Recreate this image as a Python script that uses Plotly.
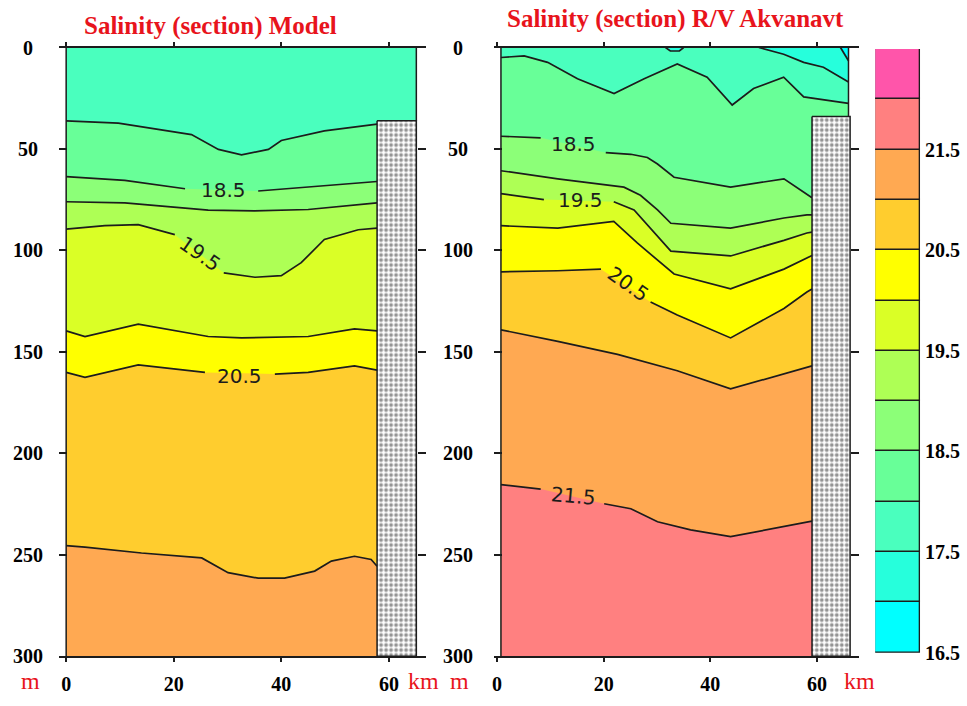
import plotly.graph_objects as go

# ---- salinity classes (0.5 psu) and their colours -------------------------
SAL_LEVELS = [16.5, 17.0, 17.5, 18.0, 18.5, 19.0, 19.5, 20.0, 20.5, 21.0, 21.5, 22.0, 22.5]
SAL_COLORS = ["#00FFFF", "#26FFDC", "#4AFFBE", "#68FF98", "#8CFF78", "#AEFF55",
              "#DAFF26", "#FFFF00", "#FFCD2E", "#FFA952", "#FF8080", "#FF55AA"]
SAL_TICKS = [16.5, 17.5, 18.5, 19.5, 20.5, 21.5]
DEPTH_TICKS = [0, 50, 100, 150, 200, 250, 300]
DIST_TICKS = [0, 20, 40, 60]
MAX_DEPTH = 300

# ---- Model section: isohaline depths (m) along the section (km) -----------
MODEL_EDGE_KM = [0.0, 65.1]
MODEL_SHELF_KM = [57.8, 65.1]
MODEL_SHELF_TOP_M = 36.1

MODEL_S180_KM = [0.0, 9.7, 23.3, 28.3, 32.6, 37.6, 40.0, 48.0, 57.8]
MODEL_S180_M = [36.1, 37.2, 42.9, 50.2, 52.9, 50.2, 45.8, 41.1, 37.7]
MODEL_S185_KM = [0.0, 10.9, 22.1, 35.7, 45.0, 57.8]
MODEL_S185_M = [63.6, 65.5, 69.6, 70.7, 68.8, 66.0]
MODEL_S190_KM = [0.0, 10.9, 26.4, 35.0, 45.0, 57.8]
MODEL_S190_M = [76.0, 76.5, 80.1, 80.5, 79.8, 76.5]
MODEL_S195_KM = [0.0, 7.2, 13.4, 20.2, 29.3, 35.1, 40.0, 43.7, 48.0, 54.3, 57.8]
MODEL_S195_M = [89.5, 87.8, 87.3, 92.2, 111.0, 113.2, 112.4, 106.0, 94.6, 89.8, 89.0]
MODEL_S200_KM = [0.0, 3.5, 13.4, 26.4, 32.6, 45.0, 53.6, 57.8]
MODEL_S200_M = [139.6, 142.4, 136.3, 142.4, 143.1, 142.4, 138.6, 139.6]
MODEL_S205_KM = [0.0, 3.5, 13.4, 25.8, 38.8, 45.0, 53.6, 57.8]
MODEL_S205_M = [160.1, 162.5, 156.4, 160.1, 160.9, 160.1, 156.9, 159.0]
MODEL_S210_KM = [0.0, 3.5, 14.0, 25.2, 30.1, 35.7, 40.6, 46.2, 49.3, 53.6, 56.7, 57.8]
MODEL_S210_M = [245.5, 246.2, 249.1, 251.5, 258.8, 261.5, 261.5, 258.0, 253.1, 250.7, 252.3, 255.6]

MODEL_LABEL_TEXT = ["18.5", "19.5", "20.5"]
MODEL_LABEL_KM = [29.2, 25.0, 32.3]
MODEL_LABEL_M = [70.1, 101.5, 161.8]
MODEL_LABEL_ANGLE = [0, 35, 0]

# ---- R/V Akvanavt section ---------------------------------------------------
RV_EDGE_KM = [0.75, 65.9]
RV_SHELF_KM = [59.06, 66.2]
RV_SHELF_TOP_M = 34.0

# near-surface patches of fresher water
RV_S170_KM = [64.4, 65.9]
RV_S170_M = [0.0, 6.5]
RV_S175_KM = [49.1, 53.75, 57.5, 61.2, 65.9]
RV_S175_M = [0.0, 3.3, 7.3, 9.7, 17.0]
RV_LENS_KM = [31.6, 32.5, 34.2, 35.0]
RV_LENS_M = [0.0, 1.7, 1.7, 0.0]

RV_S180_KM = [0.75, 5.1, 9.5, 15.1, 21.95, 27.6, 33.8, 39.4, 44.1, 48.1, 53.75, 57.5, 65.9]
RV_S180_M = [4.9, 4.1, 7.3, 15.4, 22.7, 15.4, 8.1, 14.6, 28.3, 20.2, 14.6, 24.3, 27.5]
RV_S185_KM = [0.75, 8.2, 20.4, 25.1, 28.2, 30.1, 33.2, 43.8, 53.8, 58.1, 59.06]
RV_S185_M = [43.7, 44.5, 51.8, 52.6, 54.2, 57.4, 63.9, 68.8, 64.7, 72.0, 74.0]
RV_S190_KM = [0.75, 11.4, 23.8, 26.9, 30.1, 32.6, 43.8, 53.8, 58.1, 59.06]
RV_S190_M = [60.7, 64.7, 68.8, 72.8, 80.0, 86.6, 89.0, 84.0, 82.5, 82.5]
RV_S195_KM = [0.75, 8.8, 21.9, 25.7, 32.6, 43.8, 53.8, 58.1, 59.06]
RV_S195_M = [72.0, 74.9, 76.0, 80.0, 100.3, 102.7, 95.0, 91.4, 91.0]
RV_S200_KM = [0.75, 11.4, 21.9, 26.3, 33.2, 43.8, 53.8, 58.1, 59.06]
RV_S200_M = [87.8, 89.0, 85.7, 96.3, 111.6, 118.9, 109.2, 103.5, 102.5]
RV_S205_KM = [0.75, 11.4, 19.5, 28.8, 33.8, 43.8, 53.8, 58.1, 59.06]
RV_S205_M = [110.5, 110.0, 109.2, 125.4, 131.8, 143.1, 128.6, 120.5, 119.0]
RV_S210_KM = [0.75, 11.4, 22.6, 33.8, 43.8, 53.8, 59.06]
RV_S210_M = [139.1, 144.8, 151.2, 159.3, 168.2, 160.9, 156.9]
RV_S215_KM = [0.75, 8.2, 20.1, 25.1, 30.1, 36.3, 43.8, 51.9, 59.06]
RV_S215_M = [215.4, 217.6, 224.8, 227.3, 233.7, 237.7, 241.0, 237.0, 233.4]

RV_LABEL_TEXT = ["18.5", "19.5", "20.5", "21.5"]
RV_LABEL_KM = [14.4, 15.6, 24.6, 14.4]
RV_LABEL_M = [47.7, 75.2, 116.5, 220.8]
RV_LABEL_ANGLE = [0, 0, 35, 5]

# ---- page geometry (fractions of the 967 x 706 page) ------------------------
W, H = 967, 706
Y_DOMAIN = [1 - 666.7 / H, 1 - 48.3 / H]
LINE_COLOR = "#1c1c1c"
TITLE_RED = "#E8141C"
SERIF = "Liberation Serif"

fig = go.Figure()


def class_color(lo):
    return SAL_COLORS[SAL_LEVELS.index(lo)]


def add_panel(xa, ya, edge_km, shelf_km, shelf_top, below, above, lens, labels):
    """Filled isohaline section: bands painted top-down, then isolines and labels."""
    xr, yr = xa.replace("axis", ""), ya.replace("axis", "")
    x0, x1 = edge_km
    first_val = below[0][0]
    base = SAL_LEVELS[SAL_LEVELS.index(first_val) - 1]
    poly = dict(mode="lines", line=dict(width=0), fill="toself",
                hoverinfo="skip", showlegend=False, xaxis=xr, yaxis=yr)

    # background class (freshest class present in the upper layer)
    fig.add_trace(go.Scatter(x=[x0, x1, x1, x0], y=[0, 0, MAX_DEPTH, MAX_DEPTH],
                             fillcolor=class_color(base), **poly))
    # fresher surface patches (class just below the isohaline value)
    for val, km, m in above:
        lo = SAL_LEVELS[SAL_LEVELS.index(val) - 1]
        fig.add_trace(go.Scatter(x=km + [km[-1], km[0]], y=m + [0, 0],
                                 fillcolor=class_color(lo), **poly))
    for val, km, m in lens:
        lo = SAL_LEVELS[SAL_LEVELS.index(val) - 1]
        fig.add_trace(go.Scatter(x=km, y=m, fillcolor=class_color(lo), **poly))
    # saltier water below each isohaline
    for val, km, m in below:
        fig.add_trace(go.Scatter(x=km + [km[-1], km[0]], y=m + [MAX_DEPTH, MAX_DEPTH],
                                 fillcolor=class_color(val), **poly))

    # isolines, broken where a label sits
    label_at = {t: k for t, k, _, _ in labels}
    for val, km, m in list(above) + list(lens) + list(below):
        xs, ys = [km[0]], [m[0]]
        key = f"{val:.1f}"
        for i in range(1, len(km)):
            if key in label_at and km[i - 1] < label_at[key] < km[i]:
                xs.append(None)
                ys.append(None)
            xs.append(km[i])
            ys.append(m[i])
        fig.add_trace(go.Scatter(x=xs, y=ys, mode="lines",
                                 line=dict(color=LINE_COLOR, width=1.7),
                                 hoverinfo="skip", showlegend=False,
                                 xaxis=xr, yaxis=yr))

    # bottom / land block
    s0, s1 = shelf_km
    fig.add_trace(go.Scatter(
        x=[s0, s1, s1, s0, s0], y=[shelf_top, shelf_top, MAX_DEPTH, MAX_DEPTH, shelf_top],
        mode="lines", fill="toself", fillcolor="white",
        fillpattern=dict(shape=".", fgcolor="#2a2a2a", bgcolor="white",
                         size=5, solidity=0.45),
        line=dict(color=LINE_COLOR, width=1.5),
        hoverinfo="skip", showlegend=False, xaxis=xr, yaxis=yr))
    # section outline
    fig.add_trace(go.Scatter(x=[x0, x0, None, x1, x1], y=[MAX_DEPTH, 0, None, 0, shelf_top],
                             mode="lines", line=dict(color=LINE_COLOR, width=1.5),
                             hoverinfo="skip", showlegend=False, xaxis=xr, yaxis=yr))

    for text, km, m, ang in labels:
        fig.add_annotation(x=km, y=m, xref=xr, yref=yr, text=text, showarrow=False,
                           textangle=ang, font=dict(family="DejaVu Sans", size=20,
                                                    color=LINE_COLOR))


model_below = [
    (18.0, MODEL_S180_KM, MODEL_S180_M), (18.5, MODEL_S185_KM, MODEL_S185_M),
    (19.0, MODEL_S190_KM, MODEL_S190_M), (19.5, MODEL_S195_KM, MODEL_S195_M),
    (20.0, MODEL_S200_KM, MODEL_S200_M), (20.5, MODEL_S205_KM, MODEL_S205_M),
    (21.0, MODEL_S210_KM, MODEL_S210_M),
]
model_labels = list(zip(MODEL_LABEL_TEXT, MODEL_LABEL_KM, MODEL_LABEL_M, MODEL_LABEL_ANGLE))
add_panel("xaxis", "yaxis", MODEL_EDGE_KM, MODEL_SHELF_KM, MODEL_SHELF_TOP_M,
          model_below, [], [], model_labels)

rv_below = [
    (18.0, RV_S180_KM, RV_S180_M), (18.5, RV_S185_KM, RV_S185_M),
    (19.0, RV_S190_KM, RV_S190_M), (19.5, RV_S195_KM, RV_S195_M),
    (20.0, RV_S200_KM, RV_S200_M), (20.5, RV_S205_KM, RV_S205_M),
    (21.0, RV_S210_KM, RV_S210_M), (21.5, RV_S215_KM, RV_S215_M),
]
rv_above = [(17.5, RV_S175_KM, RV_S175_M), (17.0, RV_S170_KM, RV_S170_M)]
rv_lens = [(17.5, RV_LENS_KM, RV_LENS_M)]
rv_labels = list(zip(RV_LABEL_TEXT, RV_LABEL_KM, RV_LABEL_M, RV_LABEL_ANGLE))
add_panel("xaxis2", "yaxis2", RV_EDGE_KM, RV_SHELF_KM, RV_SHELF_TOP_M,
          rv_below, rv_above, rv_lens, rv_labels)

# ---- colour scale drawn as stacked class boxes ----------------------------
fig.add_trace(go.Bar(
    x=[0.5] * (len(SAL_LEVELS) - 1), y=[b - a for a, b in zip(SAL_LEVELS[:-1], SAL_LEVELS[1:])],
    base=SAL_LEVELS[:-1], width=1.0, marker=dict(color=SAL_COLORS,
                                                 line=dict(color=LINE_COLOR, width=1.5)),
    hoverinfo="skip", showlegend=False, xaxis="x3", yaxis="y3"))

tick_font = dict(family=SERIF, size=20, color="black", weight="bold")
xaxis_common = dict(tickvals=DIST_TICKS, ticks="outside", ticklen=4, tickwidth=1.5,
                    tickcolor=LINE_COLOR, showline=True, linecolor=LINE_COLOR,
                    linewidth=1.5, mirror="ticks", showgrid=False, zeroline=False,
                    tickfont=tick_font, ticklabelstandoff=5)
yaxis_common = dict(range=[MAX_DEPTH, 0], domain=Y_DOMAIN, tickvals=DEPTH_TICKS,
                    ticks="inside", ticklen=8, tickwidth=1.5, tickcolor=LINE_COLOR,
                    mirror="ticks", showline=False, showgrid=False, zeroline=False,
                    showticklabels=False)

fig.update_layout(
    width=W, height=H, margin=dict(l=0, r=0, t=0, b=0),
    paper_bgcolor="white", plot_bgcolor="white", bargap=0,
    xaxis=dict(domain=[56.7 / W, 425 / W], range=[-1.41, 66.92], anchor="y", **xaxis_common),
    yaxis=dict(anchor="x", **yaxis_common),
    xaxis2=dict(domain=[493.3 / W, 858.3 / W], range=[-0.5, 67.78], anchor="y2", **xaxis_common),
    yaxis2=dict(anchor="x2", **yaxis_common),
    xaxis3=dict(domain=[875 / W, 920 / W], range=[0, 1], anchor="y3", visible=False),
    yaxis3=dict(domain=[1 - 663 / H, 1 - 49.8 / H], range=[SAL_LEVELS[0], SAL_LEVELS[-1]],
                anchor="x3", side="right", tickvals=SAL_TICKS,
                ticktext=[f"{v:.1f}" for v in SAL_TICKS], ticks="", showgrid=False,
                zeroline=False, showline=False, tickfont=tick_font, ticklabelstandoff=4),
)

# depth labels, centred beside each section
for px, ya in [(26, "y"), (457, "y2")]:
    for d in DEPTH_TICKS:
        fig.add_annotation(x=px / W, xref="paper", y=d, yref=ya, text=str(d),
                           showarrow=False, xanchor="center", yanchor="middle",
                           font=tick_font)

title_font = dict(family=SERIF, size=25, color=TITLE_RED, weight="bold")
fig.add_annotation(x=209 / W, y=1 - 26 / H, xref="paper", yref="paper",
                   xanchor="center", yanchor="middle",
                   text="Salinity (section) Model", showarrow=False, font=title_font)
fig.add_annotation(x=675 / W, y=1 - 19.5 / H, xref="paper", yref="paper",
                   xanchor="center", yanchor="middle",
                   text="Salinity (section) R/V Akvanavt", showarrow=False, font=title_font)

unit_font = dict(family=SERIF, size=24, color=TITLE_RED)
for text, px, py in [("m", 29, 692), ("km", 422, 692), ("m", 458, 692), ("km", 859, 692)]:
    fig.add_annotation(x=px / W, y=1 - py / H, xref="paper", yref="paper", text=text,
                       xanchor="center", yanchor="middle", showarrow=False, font=unit_font)

fig.write_html("out.html")
